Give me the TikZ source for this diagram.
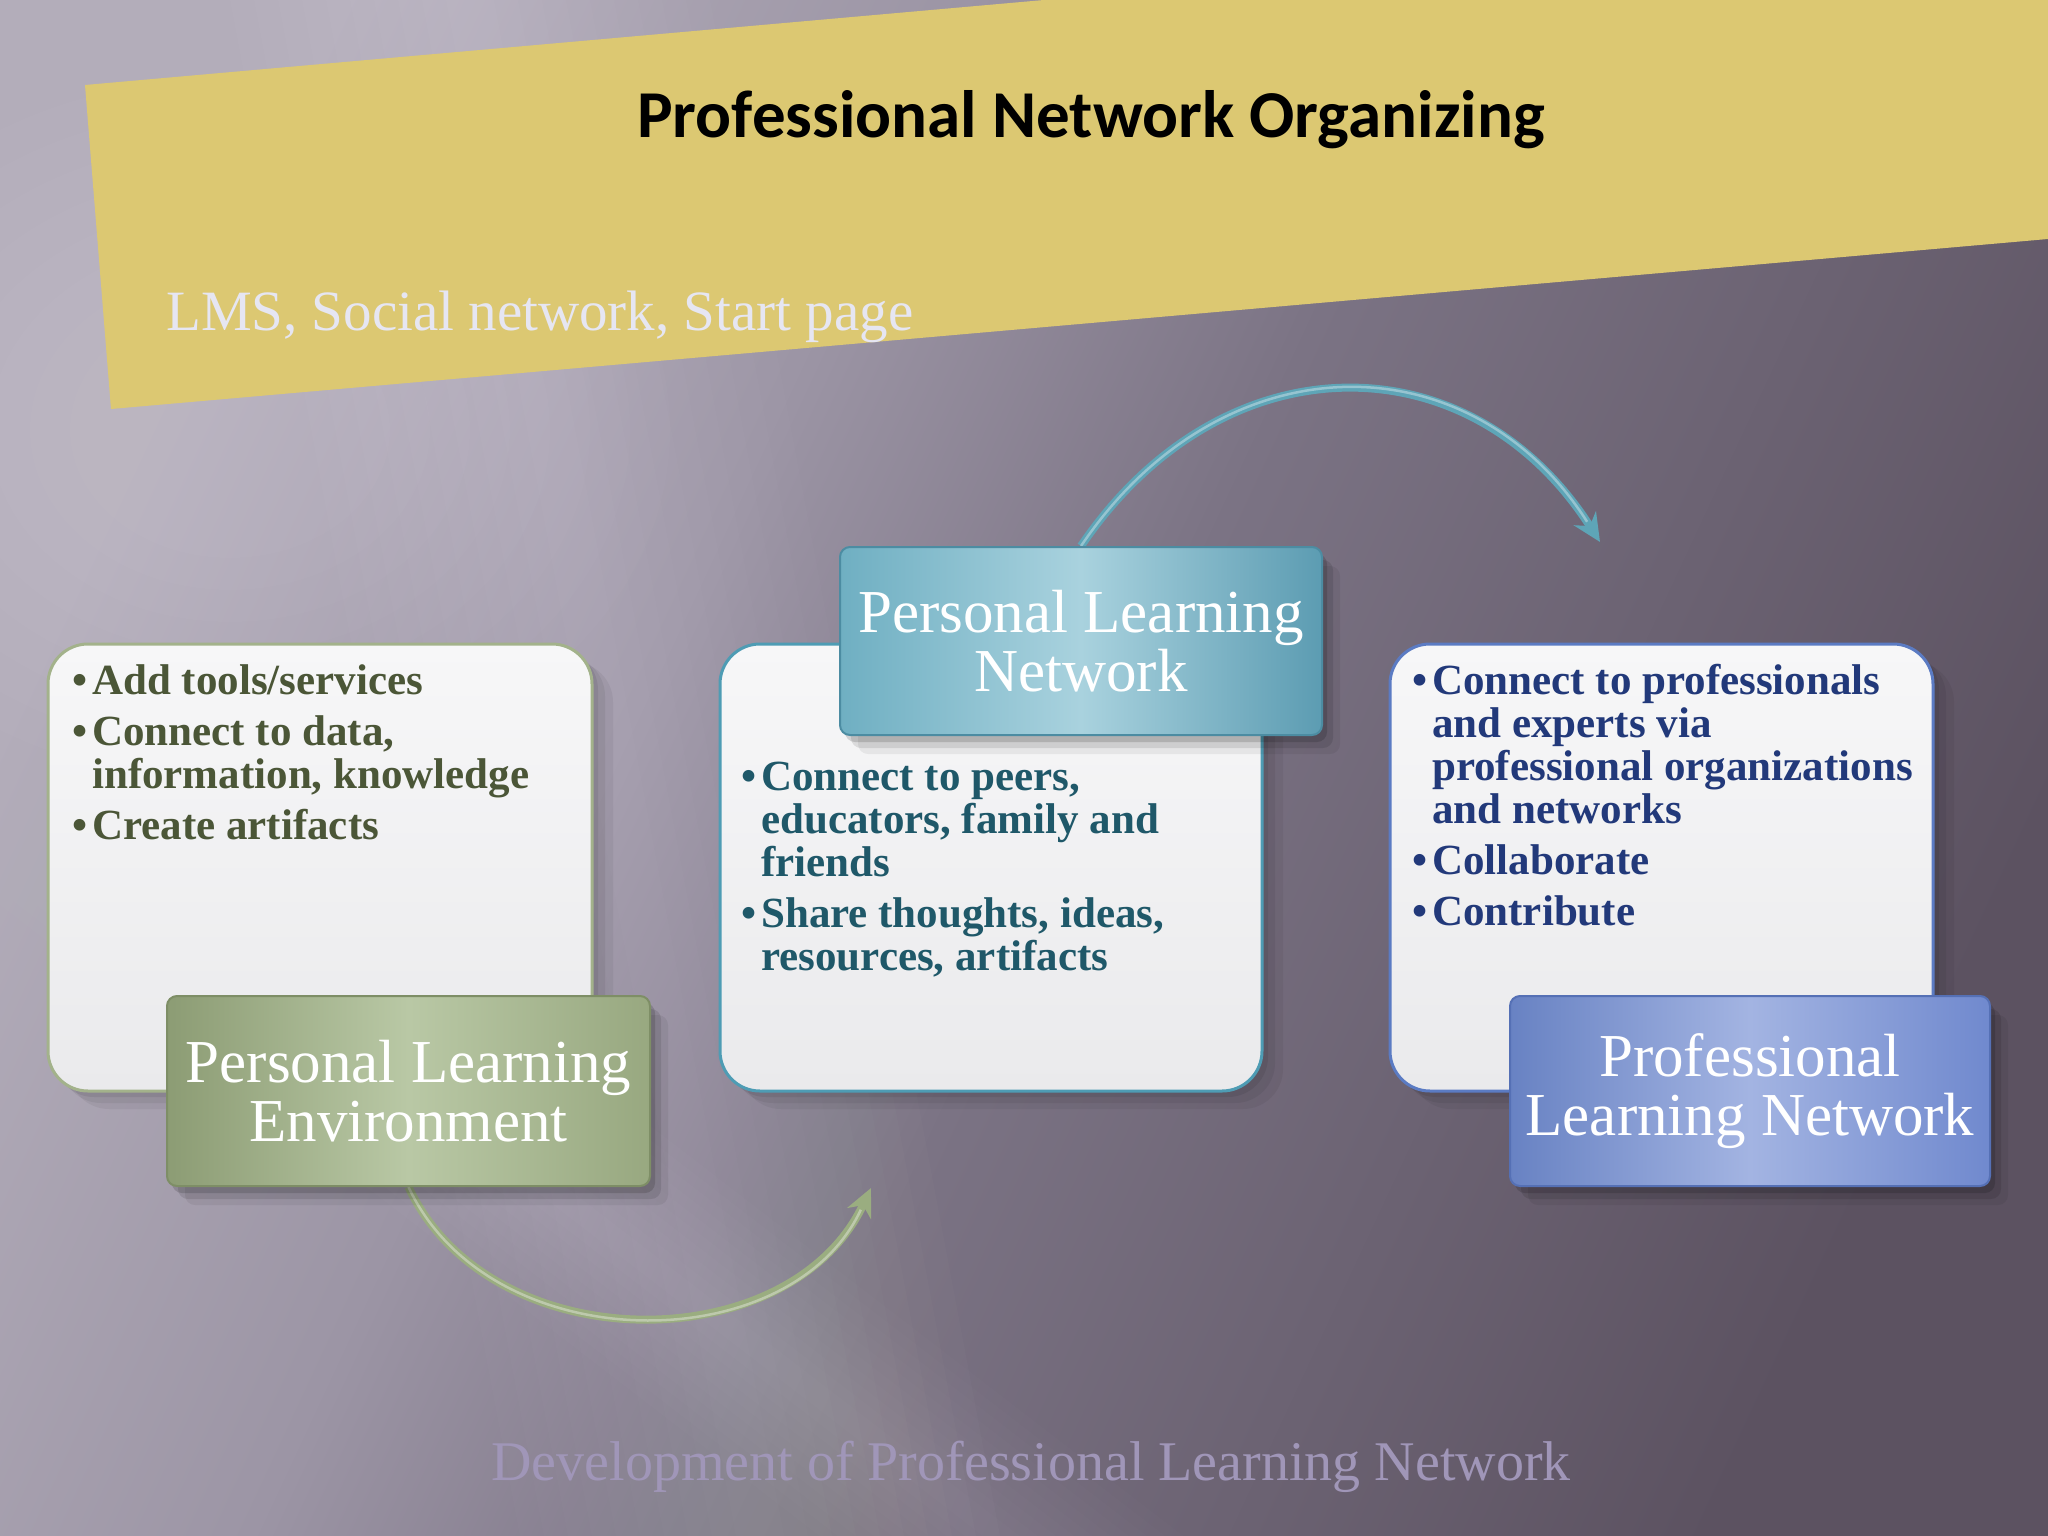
\documentclass[tikz,border=0pt]{standalone}
\usepackage{fontspec}
\newfontfamily\carlito{Carlito}
\newfontfamily\pal{Liberation Serif}
\usetikzlibrary{arrows.meta,shadows}
\newcommand\bitem[1]{\noindent\hangindent=20pt\hangafter=1\hbox to 20pt{\textbullet\hfil}#1\par}
\newcommand\blist[2]{\vtop{\hsize=#1\relax\pal\bfseries\fontsize{43}{43}\selectfont\lineskiplimit=-50pt\parindent=0pt\parskip=8pt\rightskip=0pt plus 1fil\relax #2}}
\definecolor{bgA}{HTML}{B3ADBA}
\definecolor{bgB}{HTML}{9C95A5}
\definecolor{bgC}{HTML}{7B7384}
\definecolor{bgD}{HTML}{5C5261}
\definecolor{bandY}{HTML}{DCC872}
\definecolor{subT}{HTML}{E6E6F2}
\definecolor{footT}{HTML}{A096B8}
\definecolor{wTop}{HTML}{F7F7F8}
\definecolor{wBot}{HTML}{EAEAEC}
\definecolor{lBorder}{HTML}{A3B28B}
\definecolor{mBorder}{HTML}{4E9CB4}
\definecolor{rBorder}{HTML}{5B7BC3}
\definecolor{gL}{HTML}{8C9C74}
\definecolor{gM}{HTML}{B9C8A5}
\definecolor{gR}{HTML}{98A880}
\definecolor{gE}{HTML}{7E8E66}
\definecolor{tL}{HTML}{6FAFC2}
\definecolor{tM}{HTML}{A9D2DE}
\definecolor{tR}{HTML}{5C9CB2}
\definecolor{tE}{HTML}{4C8CA2}
\definecolor{bL}{HTML}{6882C3}
\definecolor{bM}{HTML}{A3B4E2}
\definecolor{bR}{HTML}{7089CE}
\definecolor{bE}{HTML}{5570B5}
\definecolor{oliveT}{HTML}{4B5637}
\definecolor{tealT}{HTML}{1F5869}
\definecolor{navyT}{HTML}{22397A}
\definecolor{tealA}{HTML}{5EA5B7}
\definecolor{greenA}{HTML}{9AAD80}
\pgfdeclarehorizontalshading{bgsh}{100bp}{color(0bp)=(bgA); color(25bp)=(bgA); color(40bp)=(bgB); color(52bp)=(bgC); color(75bp)=(bgD); color(100bp)=(bgD)}
\pgfdeclarelayer{back}
\pgfsetlayers{back,main}
\tikzset{
  wbox/.style={rectangle, rounded corners=40pt, line width=3pt, top color=wTop, bottom color=wBot, inner sep=0pt,
    general shadow={fill=black,opacity=0.07,shadow xshift=6pt,shadow yshift=-6pt},
    general shadow={fill=black,opacity=0.06,shadow xshift=13pt,shadow yshift=-12pt},
    general shadow={fill=black,opacity=0.05,shadow xshift=21pt,shadow yshift=-18pt}},
  lbl/.style={rectangle, rounded corners=10pt, line width=2pt, inner sep=0pt, minimum height=190pt, align=center,
    text=white, font=\pal\fontsize{61}{59}\selectfont,
    general shadow={fill=black,opacity=0.14,shadow xshift=5pt,shadow yshift=-7pt},
    general shadow={fill=black,opacity=0.10,shadow xshift=11pt,shadow yshift=-13pt},
    general shadow={fill=black,opacity=0.06,shadow xshift=18pt,shadow yshift=-19pt}},
  tarr/.style={draw=tealA, line width=8pt, -{Stealth[length=28pt,width=26pt]}},
  garr/.style={draw=greenA, line width=8pt, -{Stealth[length=28pt,width=26pt]}},
  hilite/.style={draw=white, opacity=0.35, line width=2.5pt, shorten >=24pt}
}
\begin{document}
\begin{tikzpicture}[x=1pt,y=-1pt]
\useasboundingbox (0,0) rectangle (2048,1536);
\clip (0,0) rectangle (2048,1536);
\begin{pgfonlayer}{back}
% background
\shade[shading=bgsh, shading angle=-25] (0,0) rectangle (2048,1536);
\foreach \w in {24,48,...,240}
  \fill[white, opacity=0.014] (470-\w,0) -- (470+\w,0) -- (760+\w,1536) -- (760-\w,1536) -- cycle;
\foreach \w in {14,28,...,140}
  \fill[white, opacity=0.012] (0,765-\w) -- (0,765+\w) -- (1300,1766+\w) -- (1300,1766-\w) -- cycle;
\foreach \r in {440,400,...,160}
  \fill[white, opacity=0.014] (230,430) ellipse ({\r} and {0.8*\r});
% yellow band
\fill[bandY] (85,85) -- (2048,-89) -- (2048,239) -- (111,409) -- cycle;
\end{pgfonlayer}

% titles
\node[anchor=base, inner sep=0pt] (title) at (1091,138) {\carlito\bfseries\fontsize{67}{80}\selectfont Professional Network Organizing};
\node[anchor=base west, inner sep=0pt, text=subT] (sub) at (166,330) {\pal\fontsize{57}{60}\selectfont LMS, Social network, Start page};

% white boxes
\node[wbox, draw=lBorder, minimum width=544pt, minimum height=447pt] (lbox) at (320,867.5) {};
\node[wbox, draw=mBorder, minimum width=542pt, minimum height=447pt] (mbox) at (991,867.5) {};
\node[wbox, draw=rBorder, minimum width=543pt, minimum height=447pt] (rbox) at (1661.5,867.5) {};

% lists
\node[anchor=base west, inner sep=0pt, text=oliveT] (ltext) at (72,694)
  {\blist{500pt}{\bitem{Add tools/services}\bitem{Connect to data,\\information, knowledge}\bitem{Create artifacts}}};
\node[anchor=base west, inner sep=0pt, text=tealT] (mtext) at (741,790)
  {\blist{500pt}{\bitem{Connect to peers,\\educators, family and\\friends}\bitem{Share thoughts, ideas,\\resources, artifacts}}};
\node[anchor=base west, inner sep=0pt, text=navyT] (rtext) at (1412,694)
  {\blist{520pt}{\bitem{Connect to professionals\\and experts via\\professional organizations\\and networks}\bitem{Collaborate}\bitem{Contribute}}};

% label boxes
\node[lbl, minimum width=483pt, left color=gL, right color=gR, middle color=gM, draw=gE] (ple) at (408.5,1091) {Personal Learning\\Environment};
\node[lbl, minimum width=482pt, minimum height=188pt, left color=tL, right color=tR, middle color=tM, draw=tE] (pln) at (1081,641) {Personal Learning\\Network};
\node[lbl, minimum width=480pt, left color=bL, right color=bR, middle color=bM, draw=bE] (prln) at (1750,1091) {Professional\\Learning Network};

% arrows
\coordinate (tEnd) at (1600,542);
\coordinate (gEnd) at (871,1188);
\begin{pgfonlayer}{back}
\draw[tarr] (pln.north) .. controls (1222,338) and (1470,338) .. (tEnd);
\draw[hilite] (pln.north) .. controls (1222,338) and (1470,338) .. (tEnd);
\draw[garr] (ple.south) .. controls (490,1361) and (790,1361) .. (gEnd);
\draw[hilite] (ple.south) .. controls (490,1361) and (790,1361) .. (gEnd);
\end{pgfonlayer}

% footer
\node[anchor=base, inner sep=0pt, text=footT] (foot) at (1031,1480) {\pal\fontsize{56}{60}\selectfont Development of Professional Learning Network};
\end{tikzpicture}
\end{document}
